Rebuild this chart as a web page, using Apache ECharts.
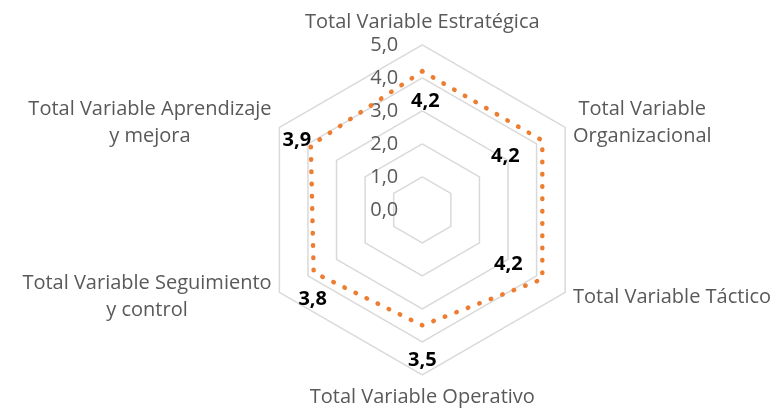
<!DOCTYPE html>
<html>
<head>
<meta charset="utf-8">
<script src="https://cdn.jsdelivr.net/npm/echarts@6/dist/echarts.min.js"></script>
<style>
  html, body { margin: 0; padding: 0; background: #fff; }
  #chart { width: 782px; height: 409px; }
</style>
</head>
<body>
<div id="chart"></div>
<script>
// categories in drawing order (counterclockwise from the top)
var categories = [
  'Total Variable Estratégica',
  'Total Variable Aprendizaje\ny mejora',
  'Total Variable Seguimiento\ny control',
  'Total Variable Operativo',
  'Total Variable Táctico',
  'Total Variable\nOrganizacional'
]
var values = [4.2, 3.9, 3.8, 3.5, 4.2, 4.2]
var tickValues = [0, 1, 2, 3, 4, 5]

// label offsets (px) from each point, same order as categories
var labelOffsets = [[3, 30], [-14, -5], [-1, 27], [0, 35], [-34, -15], [-37, 16]]

var FONT = 'Open Sans'
var center = ['54%', '51.3%']
var radius = 165

function fmt (v) {
  return v.toFixed(1).replace('.', ',')
}

var chart = echarts.init(document.getElementById('chart'), null, { renderer: 'canvas' })

var labelSeries = categories.map(function (c, i) {
  return {
    type: 'radar',
    silent: true,
    symbol: 'circle',
    symbolSize: 1,
    itemStyle: { color: 'rgba(0,0,0,0)', borderWidth: 0 },
    lineStyle: { color: 'rgba(0,0,0,0)', width: 0 },
    z: 5,
    data: [{
      value: values,
      label: {
        show: true,
        position: 'inside',
        offset: labelOffsets[i],
        color: '#000',
        fontFamily: FONT,
        fontWeight: 'bold',
        fontSize: 20,
        formatter: function (p) {
          return p.dimensionIndex === i ? fmt(values[i]) : ''
        }
      }
    }]
  }
})

chart.setOption({
  animation: false,
  textStyle: { fontFamily: FONT },
  radar: {
    center: center,
    radius: radius,
    startAngle: 90,
    splitNumber: 5,
    shape: 'polygon',
    indicator: categories.map(function (c) { return { name: c, min: 0, max: 5 } }),
    axisName: {
      color: '#595959',
      fontFamily: FONT,
      fontSize: 20,
      lineHeight: 27,
      formatter: function (name) {
        return name.split('\n').map(function (s) { return '{c|' + s + '}' }).join('\n')
      },
      rich: {
        c: { align: 'center', color: '#595959', fontFamily: FONT, fontSize: 20, lineHeight: 27 }
      }
    },
    nameGap: 9,
    axisLine: { show: false },
    axisTick: { show: false },
    axisLabel: { show: false },
    splitArea: { show: false },
    splitLine: { lineStyle: { color: '#d9d9d9', width: 1.5 } }
  },
  polar: {
    center: center,
    radius: radius
  },
  angleAxis: {
    startAngle: 90,
    show: false,
    axisLine: { show: false },
    splitLine: { show: false },
    axisLabel: { show: false },
    axisTick: { show: false }
  },
  radiusAxis: {
    min: 0,
    max: 5,
    interval: 1,
    axisLine: { show: false },
    axisTick: { show: false },
    splitLine: { show: false },
    axisLabel: {
      color: '#595959',
      fontFamily: FONT,
      fontSize: 20,
      margin: 24,
      padding: [7, 0, 0, 0],
      formatter: function (v) { return fmt(v) }
    }
  },
  series: [{
    type: 'radar',
    symbol: 'none',
    z: 4,
    lineStyle: {
      color: '#ED7D31',
      width: 4.5,
      type: [0.5, 11.8],
      cap: 'round'
    },
    data: [{ value: values }]
  }].concat(labelSeries)
})
</script>
</body>
</html>
